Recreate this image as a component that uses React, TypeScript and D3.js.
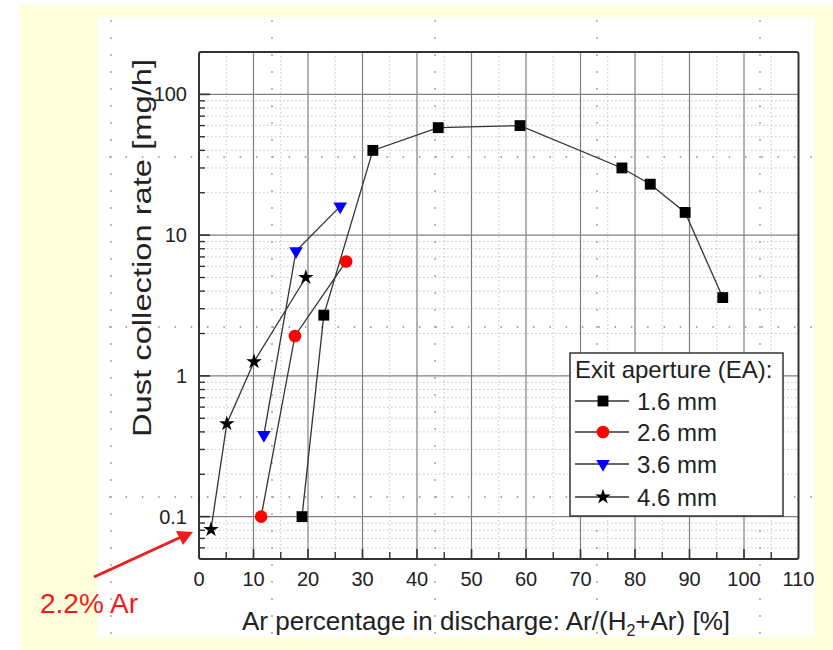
import React from 'react';
import * as d3 from 'd3';

// ---- data ----
const xTickValues = [0, 10, 20, 30, 40, 50, 60, 70, 80, 90, 100, 110];
const yTickValues = [0.1, 1, 10, 100];
const yTickLabels = ['0.1', '1', '10', '100'];

const ea16X = [18.9, 22.9, 31.9, 43.9, 58.9, 77.6, 82.8, 89.2, 96.1];
const ea16Y = [0.1, 2.7, 40, 58, 60, 30, 23, 14.5, 3.6];
const ea26X = [11.4, 17.6, 27.0];
const ea26Y = [0.1, 1.92, 6.5];
const ea36X = [11.9, 17.8, 25.9];
const ea36Y = [0.38, 7.7, 16.0];
const ea46X = [2.2, 5.1, 10.1, 19.6];
const ea46Y = [0.081, 0.457, 1.26, 5.0];

const seriesNames = ['1.6 mm', '2.6 mm', '3.6 mm', '4.6 mm'];
const seriesColors = ['#000000', '#ff0000', '#0000ff', '#000000'];
const seriesMarkers = ['square', 'circle', 'triangle', 'star'];
const legendTitle = 'Exit aperture (EA):';
const yLabel = 'Dust collection rate [mg/h]';
const annotationText = '2.2% Ar';

const seriesX = [ea16X, ea26X, ea36X, ea46X];
const seriesY = [ea16Y, ea26Y, ea36Y, ea46Y];

function markerPath(kind: string, scale = 1) {
  if (kind === 'square') return d3.symbol().type(d3.symbolSquare).size(118 * scale)()!;
  if (kind === 'circle') return d3.symbol().type(d3.symbolCircle).size(125 * scale)()!;
  if (kind === 'triangle') return d3.symbol().type(d3.symbolTriangle).size(80 * scale)()!;
  return d3.symbol().type(d3.symbolStar).size(75 * scale)()!;
}

export default function App() {
  const W = 833, H = 650;
  const x = d3.scaleLinear().domain([0, 110]).range([199, 798.5]);
  const y = d3.scaleLog().domain([0.05, 200]).range([559, 52]);
  const [x0, x1] = x.range();
  const [yb, yt] = y.range();

  const minorY: number[] = [];
  [0.01, 0.1, 1, 10, 100].forEach(dec => {
    for (let k = 2; k <= 9; k++) {
      const v = +(k * dec).toPrecision(3);
      if (v > 0.05 && v < 200) minorY.push(v);
    }
  });
  const minorX = d3.range(5, 110, 10);
  const majorXGrid = d3.range(10, 110, 10);

  const line = d3.line<[number, number]>().x(d => x(d[0])).y(d => y(d[1]));

  // slide dot guides
  const dotCols = [111, 272, 435, 597, 760];
  const dotRows = [157, 327, 497];
  const dots: [number, number][] = [];
  dotCols.forEach(cx => { for (let yy = 21; yy < 636; yy += 17) dots.push([cx, yy]); });
  dotRows.forEach(cy => { for (let xx = 110; xx < 812; xx += 16.3) dots.push([xx, cy]); });

  const font = 'Arial, "Liberation Sans", Helvetica, sans-serif';

  const legX = 570, legY = 353, legW = 213, legH = 163;
  const legRows = [401, 432, 464, 497];

  return (
    <svg width={W} height={H} style={{ position: 'absolute', left: 0, top: 0 }} fontFamily={font}>
      <rect x={0} y={0} width={W} height={H} fill="#ffffff" />
      <rect x={20} y={5} width={W - 20} height={H - 5} fill="#ffffdc" />
      <rect x={97} y={17} width={718} height={620} fill="#ffffff" />

      {/* grid */}
      {minorX.map(v => (
        <line key={'mx' + v} x1={x(v)} x2={x(v)} y1={yt} y2={yb} stroke="#b8b8b8" strokeWidth={0.8} strokeDasharray="1.5,2.5" />
      ))}
      {minorY.map(v => (
        <line key={'my' + v} x1={x0} x2={x1} y1={y(v)} y2={y(v)} stroke="#b8b8b8" strokeWidth={0.8} strokeDasharray="1.5,2.5" />
      ))}
      {majorXGrid.map(v => (
        <line key={'gx' + v} x1={x(v)} x2={x(v)} y1={yt} y2={yb} stroke="#808080" strokeWidth={1.2} />
      ))}
      {yTickValues.map(v => (
        <line key={'gy' + v} x1={x0} x2={x1} y1={y(v)} y2={y(v)} stroke="#808080" strokeWidth={1.2} />
      ))}

      {/* slide dots */}
      {dots.map((d, i) => <circle key={'d' + i} cx={d[0]} cy={d[1]} r={0.9} fill="#9a9a9a" />)}

      {/* ticks */}
      {minorY.map(v => (
        <line key={'ty' + v} x1={x0} x2={x0 + 6} y1={y(v)} y2={y(v)} stroke="#333" strokeWidth={1.4} />
      ))}
      {yTickValues.map(v => (
        <line key={'tY' + v} x1={x0} x2={x0 + 11} y1={y(v)} y2={y(v)} stroke="#333" strokeWidth={1.6} />
      ))}
      {minorX.map(v => (
        <line key={'tx' + v} x1={x(v)} x2={x(v)} y1={yb} y2={yb - 7} stroke="#333" strokeWidth={1.4} />
      ))}
      {majorXGrid.map(v => (
        <line key={'tX' + v} x1={x(v)} x2={x(v)} y1={yb} y2={yb - 10} stroke="#333" strokeWidth={1.6} />
      ))}

      {/* frame */}
      <rect x={x0} y={yt} width={x1 - x0} height={yb - yt} fill="none" stroke="#333" strokeWidth={2} rx={2} />

      {/* series */}
      {seriesX.map((xs, si) => {
        const pts = xs.map((v, i) => [v, seriesY[si][i]] as [number, number]);
        return (
          <g key={'s' + si}>
            <path d={line(pts)!} fill="none" stroke="#333" strokeWidth={1.3} />
            {pts.map((p, i) => (
              <path key={i} d={markerPath(seriesMarkers[si])}
                transform={`translate(${x(p[0])},${y(p[1])})${seriesMarkers[si] === 'triangle' ? ' rotate(180)' : ''}`}
                fill={seriesColors[si]} />
            ))}
          </g>
        );
      })}

      {/* tick labels */}
      {xTickValues.map(v => (
        <text key={'xl' + v} x={x(v)} y={586} fontSize={20} textAnchor="middle" fill="#222">{v}</text>
      ))}
      {yTickValues.map((v, i) => (
        <text key={'yl' + v} x={187} y={y(v) + 7} fontSize={20} textAnchor="end" fill="#222">{yTickLabels[i]}</text>
      ))}

      {/* axis labels */}
      <text x={486} y={630} fontSize={26} textAnchor="middle" fill="#222">
        Ar percentage in discharge: Ar/(H<tspan fontSize={16} dy={6}>2</tspan><tspan dy={-6}>+Ar) [%]</tspan>
      </text>
      <text transform="translate(151,248) rotate(-90)" fontSize={26} textAnchor="middle" fill="#222"
        textLength={378} lengthAdjust="spacingAndGlyphs">{yLabel}</text>

      {/* legend */}
      <rect x={legX} y={legY} width={legW} height={legH} fill="#ffffff" stroke="#333" strokeWidth={1.5} />
      <text x={575} y={378} fontSize={24} fill="#222">{legendTitle}</text>
      {seriesNames.map((name, i) => (
        <g key={'lg' + i}>
          <line x1={575} x2={629} y1={legRows[i]} y2={legRows[i]} stroke="#333" strokeWidth={1.5} />
          <path d={markerPath(seriesMarkers[i])}
            transform={`translate(603,${legRows[i]})${seriesMarkers[i] === 'triangle' ? ' rotate(180)' : ''}`}
            fill={seriesColors[i]} />
          <text x={637} y={legRows[i] + 8.5} fontSize={24} fill="#222">{name}</text>
        </g>
      ))}

      {/* annotation */}
      <defs>
        <marker id="arrowhead" markerWidth={8} markerHeight={8} refX={6} refY={4} orient="auto" markerUnits="userSpaceOnUse">
        </marker>
      </defs>
      <line x1={94} y1={577} x2={180} y2={537.5} stroke="#ee1c1c" strokeWidth={3} />
      <path d="M193,532 L176,531 L183,545 Z" fill="#ee1c1c" />
      <text x={40} y={613} fontSize={28} fill="#ee1c1c">{annotationText}</text>
    </svg>
  );
}
